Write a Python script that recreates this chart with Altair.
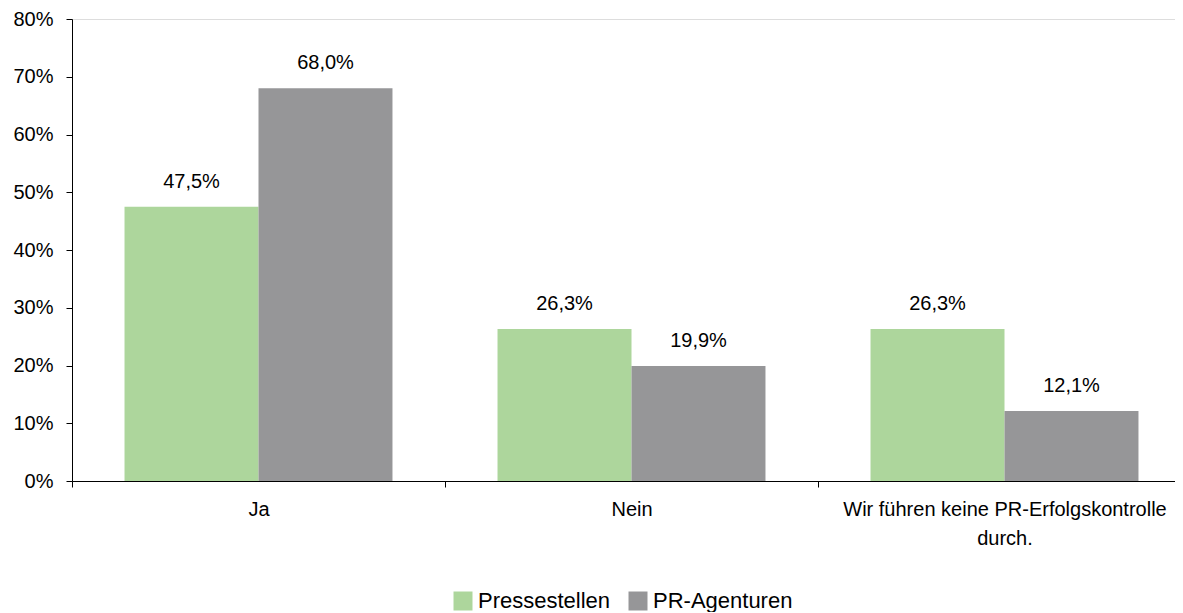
import altair as alt
import pandas as pd

categories = ["Ja", "Nein", "Wir führen keine PR-Erfolgskontrolle\ndurch."]
series = ["Pressestellen", "PR-Agenturen"]
pressestellen = [47.5, 26.3, 26.3]
pr_agenturen = [68.0, 19.9, 12.1]
colors = ["#ADD69C", "#969698"]
y_ticks = [0, 0.1, 0.2, 0.3, 0.4, 0.5, 0.6, 0.7, 0.8]

rows = []
for s, vals in zip(series, [pressestellen, pr_agenturen]):
    for c, v in zip(categories, vals):
        rows.append({"cat": c, "series": s, "value": v / 100.0,
                     "label": f"{v:.1f}%".replace(".", ",")})
df = pd.DataFrame(rows)

FONT = "Liberation Sans"

x_enc = alt.X("cat:N", sort=categories,
              scale=alt.Scale(paddingInner=0, paddingOuter=0),
              axis=alt.Axis(title=None, labelAngle=0, tickBand="extent", tickSize=6,
                            domainColor="#000000", tickColor="#000000",
                            labelFontSize=20, labelFont=FONT, labelColor="#000000",
                            labelPadding=12, labelLimit=0, labelLineHeight=29,
                            labelExpr="split(datum.label, '\\n')"))
xo_enc = alt.XOffset("series:N", sort=series,
                     scale=alt.Scale(paddingInner=0, paddingOuter=0.392))
y_enc = alt.Y("value:Q", scale=alt.Scale(domain=[0, 0.8], nice=False, zero=True),
              axis=alt.Axis(title=None, format=".0%", values=y_ticks, grid=False,
                            tickSize=6, labelPadding=13, domainColor="#000000",
                            tickColor="#000000", labelFontSize=20, labelFont=FONT,
                            labelColor="#000000"))

bars = alt.Chart(df).mark_bar().encode(
    x=x_enc,
    xOffset=xo_enc,
    y=y_enc,
    color=alt.Color("series:N", sort=series,
                    scale=alt.Scale(domain=series, range=colors),
                    legend=alt.Legend(title=None, orient="none", legendX=380, legendY=571,
                                      direction="horizontal", symbolType="square",
                                      symbolSize=361, symbolStrokeWidth=0,
                                      labelFontSize=22, labelFont=FONT,
                                      labelColor="#000000", labelOffset=4,
                                      columnPadding=16, padding=0)),
)

labels = alt.Chart(df).mark_text(dy=-19, baseline="alphabetic", fontSize=20,
                                 font=FONT, color="#000000").encode(
    x=alt.X("cat:N", sort=categories),
    xOffset=alt.XOffset("series:N", sort=series),
    y="value:Q",
    text="label:N",
)

chart = (bars + labels).properties(
    width=1119, height=462,
    autosize=alt.AutoSizeParams(type="none"),
    padding={"left": 64, "top": 11, "right": -16, "bottom": 131},
).configure_view(stroke=None).configure(font=FONT)

chart.save("out.html", embed_options={"renderer": "svg", "actions": False})
